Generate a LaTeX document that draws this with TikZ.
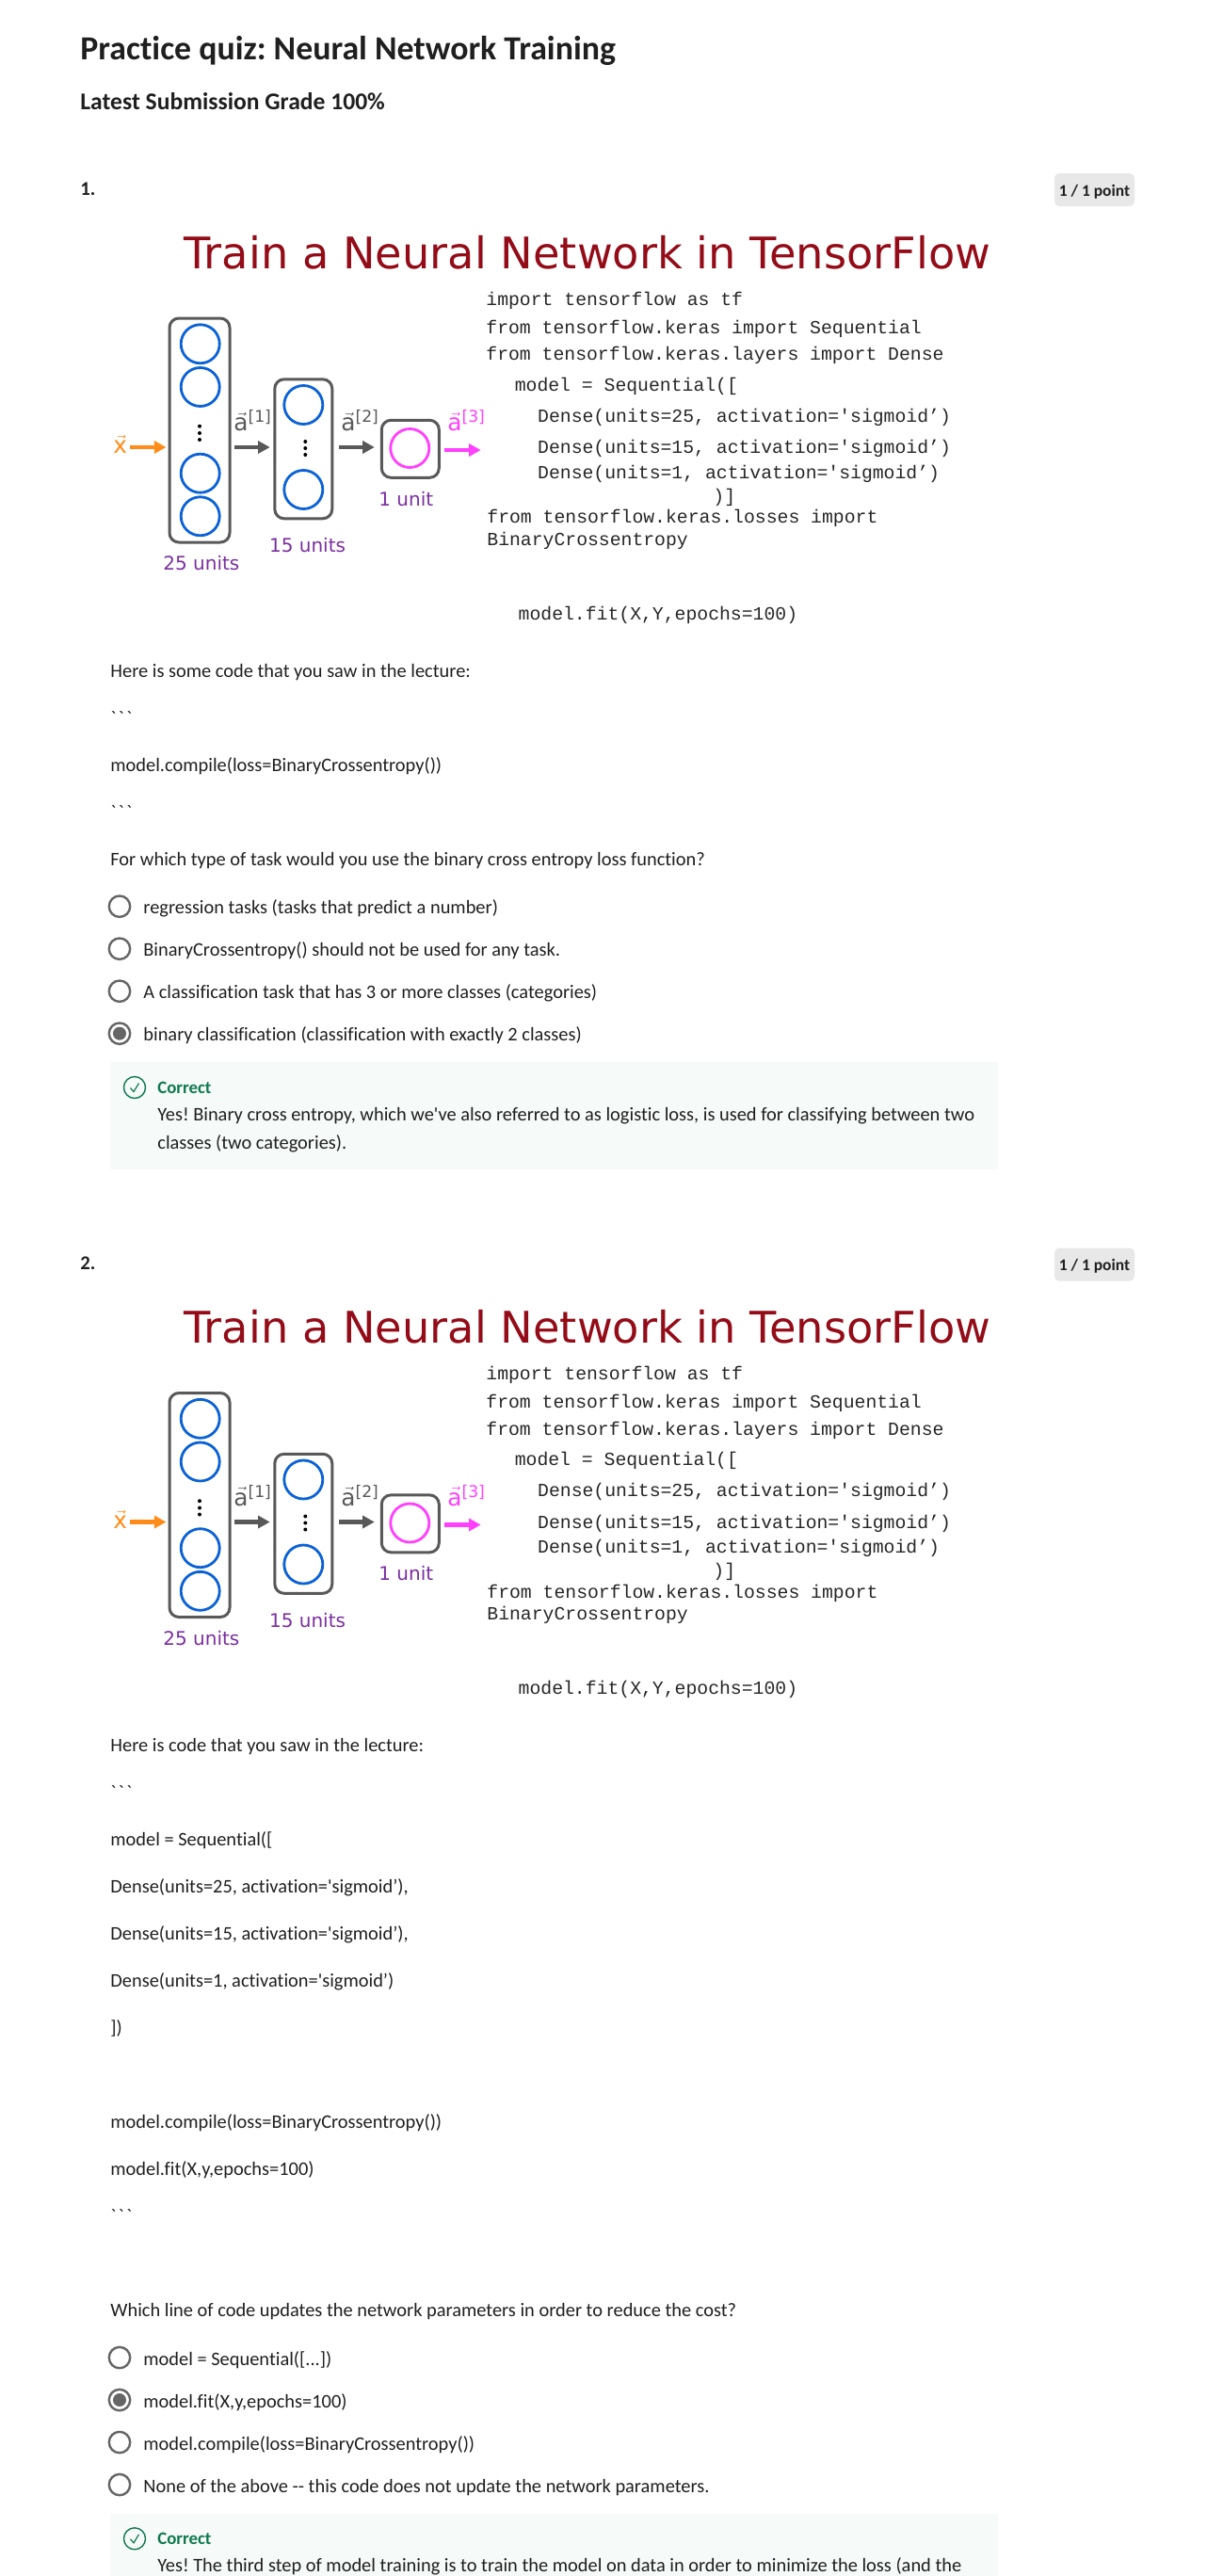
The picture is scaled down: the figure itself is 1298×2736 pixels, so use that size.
\documentclass[tikz,border=0pt]{standalone}
\usepackage{fontspec}
\usepackage{amsmath}
\usepackage{xcolor}
\usepackage{tikz}
\usetikzlibrary{arrows.meta}
\newfontfamily\bodyfont[Ligatures=NoCommon]{Carlito}
\newfontfamily\figfont{DejaVu Sans}
\newfontfamily\codefont{Liberation Mono}
\definecolor{ink}{HTML}{1F1F1F}
\definecolor{slide}{HTML}{930C18}
\definecolor{boxgray}{HTML}{595959}
\definecolor{neuronblue}{HTML}{0B62D6}
\definecolor{pink}{HTML}{FF40FF}
\definecolor{dlorange}{HTML}{FF8C1A}
\definecolor{unitpurple}{HTML}{7B2FA0}
\definecolor{okgreen}{HTML}{0F7A50}
\definecolor{okpale}{HTML}{F6FAF8}
\newcommand{\veclab}[2]{$\vec{\hbox{\figfont\fontsize{12.4}{12}\selectfont #1}}$\raisebox{4.5pt}{\figfont\fontsize{8.6}{9}\selectfont #2}}
\newcommand{\ticks}{`\hspace{1.2pt}`\hspace{1.2pt}`}
\tikzset{
    txt/.style={anchor=base west, inner sep=0pt, text=ink, execute at begin node=\frenchspacing, font=\bodyfont\fontsize{10.2}{12}\selectfont},
    heading/.style={txt, font=\bodyfont\fontsize{17.9}{20}\selectfont\bfseries},
    subhead/.style={txt, font=\bodyfont\fontsize{12.8}{15}\selectfont\bfseries},
    qnum/.style={txt, font=\bodyfont\fontsize{10.4}{12}\selectfont\bfseries},
    badge/.style={draw=none, fill=black!9, rounded corners=2.5pt, minimum width=42.5pt, minimum height=17.5pt, inner sep=0pt},
    radio/.style={circle, draw=black!60, line width=1.2pt, fill=white, minimum size=11.2pt, inner sep=0pt},
    layer/.style={draw=boxgray, line width=1.5pt, rounded corners=5pt, inner sep=0pt},
    neuron/.style={circle, draw=neuronblue, line width=1.4pt, minimum size=20.5pt, inner sep=0pt},
    code/.style={anchor=base west, inner sep=0pt, text=black!85, font=\codefont\fontsize{9.88}{12}\selectfont},
    units/.style={anchor=base west, inner sep=0pt, text=unitpurple, font=\figfont\fontsize{10}{12}\selectfont},
    veclbl/.style={anchor=base west, inner sep=0pt, text=boxgray},
    flow/.style={line width=2.2pt, -{Triangle[length=6.3pt,width=6.5pt]}},
    feedback/.style={anchor=north west, fill=okpale, draw=none, inner sep=0pt, minimum width=471.5pt}
}
\begin{document}
\begin{tikzpicture}[x=0.5pt,y=-0.5pt]
    \useasboundingbox (0,0) rectangle (1298,2736);

    % Page head
    \node[heading] (pagetitle) at (85,63) {Practice quiz: Neural Network Training};
    \node[subhead] (pagegrade) at (85,116) {Latest Submission Grade 100\%};

    % Number, badge and slide, same for both questions
    \foreach \dy/\num in {0/1,1141.5/2}{
    \begin{scope}[shift={(0,\dy)}]
        \node[qnum] (qnum\num) at (85,207) {\num.};
        \node[badge] (badge\num) at (1162.5,201.5) {};
        \node[txt, anchor=base, font=\bodyfont\fontsize{8.7}{10}\selectfont\bfseries] (points\num) at (1162.5,208.3) {1 / 1 point};
        \node[anchor=base west, inner sep=0pt, text=slide, font=\figfont\fontsize{23.15}{26}\selectfont] (slidetitle\num) at (195,285.2) {Train a Neural Network in TensorFlow};

        % Layers
        \node[layer, minimum width=32pt, minimum height=119pt] (layera\num) at (212,457) {};
        \node[layer, minimum width=30.5pt, minimum height=74pt] (layerb\num) at (322.3,476.8) {};
        \node[layer, minimum width=30.5pt, minimum height=30.5pt] (layerc\num) at (435.8,476.8) {};

        % Neurons
        \foreach \yy/\nm in {365.3/a,411/b,502.7/c,548.3/d}
            \node[neuron] (na\nm\num) at (212.7,\yy) {};
        \foreach \yy/\nm in {430/a,520/b}
            \node[neuron] (nb\nm\num) at (322.3,\yy) {};
        \node[neuron, draw=pink] (nc\num) at (435.3,476) {};
        \foreach \yy in {452.7,460,467}
            \fill (212,\yy) circle (2);
        \foreach \yy in {469,476,483}
            \fill (324.3,\yy) circle (2);

        % Arrows
        \coordinate (xin\num) at (138,475);
        \coordinate (aout\num) at (510.7,478);
        \draw[flow, dlorange, shorten >=1pt] (xin\num) -- (xin\num -| layera\num.west);
        \draw[flow, boxgray, shorten <=1.8pt, shorten >=1.8pt] (xin\num -| layera\num.east) -- (xin\num -| layerb\num.west);
        \draw[flow, boxgray, shorten <=3pt, shorten >=3pt] (xin\num -| layerb\num.east) -- (xin\num -| layerc\num.west);
        \draw[flow, pink, shorten <=2pt] (aout\num -| layerc\num.east) -- (aout\num);

        % Labels
        \node[veclbl, text=dlorange] (xlab\num) at (120,481.7) {$\vec{\hbox{\figfont\fontsize{12.4}{12}\selectfont x}}$};
        \node[veclbl] (alaba\num) at (248,457.7) {\veclab{a}{[1]}};
        \node[veclbl] (alabb\num) at (362,457.7) {\veclab{a}{[2]}};
        \node[veclbl, text=pink] (alabc\num) at (475,457.7) {\veclab{a}{[3]}};
        \node[units] (unitsa\num) at (173,605.7) {25 units};
        \node[units] (unitsb\num) at (285.7,586.7) {15 units};
        \node[units] (unitsc\num) at (402,537) {1 unit};

        % Code on the slide
        \node[code] (cda\num) at (516,324.3) {import tensorflow as tf};
        \node[code] (cdb\num) at (516,354) {from tensorflow.keras import Sequential};
        \node[code] (cdc\num) at (516,382.7) {from tensorflow.keras.layers import Dense};
        \node[code] (cdd\num) at (546.4,415) {model = Sequential([};
        \node[code] (cde\num) at (570.8,448.3) {Dense(units=25, activation='sigmoid’)};
        \node[code] (cdf\num) at (570.8,481.7) {Dense(units=15, activation='sigmoid’)};
        \node[code] (cdg\num) at (570.8,508.3) {Dense(units=1, activation='sigmoid’)};
        \node[code] (cdh\num) at (757,533) {)]};
        \node[code] (cdi\num) at (517,555.7) {from tensorflow.keras.losses import};
        \node[code] (cdj\num) at (517,579) {BinaryCrossentropy};
        \node[code] (cdk\num) at (550.3,658.3) {model.fit(X,Y,epochs=100)};
    \end{scope}
    }

    % Question 1
    \node[txt] (qatxta) at (117,719) {Here is some code that you saw in the lecture:};
    \node[txt] (qatxtb) at (117,769) {\ticks};
    \node[txt] (qatxtc) at (117,819) {model.compile(loss=BinaryCrossentropy())};
    \node[txt] (qatxtd) at (117,869) {\ticks};
    \node[txt] (qatxte) at (117,919) {For which type of task would you use the binary cross entropy loss function?};

    \node[radio] (qaopta) at (127,962.7) {};
    \node[radio] (qaoptb) at (127,1007.7) {};
    \node[radio] (qaoptc) at (127,1052.7) {};
    \node[radio] (qaoptd) at (127,1097.7) {};
    \fill[black!60] (qaoptd) circle (7);
    \node[txt] (qaansa) at (152,970) {regression tasks (tasks that predict a number)};
    \node[txt] (qaansb) at (152,1015) {BinaryCrossentropy() should not be used for any task.};
    \node[txt] (qaansc) at (152,1060) {A classification task that has 3 or more classes (categories)};
    \node[txt] (qaansd) at (152,1105) {binary classification (classification with exactly 2 classes)};

    \node[feedback, minimum height=57pt] (qafb) at (117,1128) {};
    \node[circle, draw=okgreen, line width=0.7pt, minimum size=11.5pt, inner sep=0pt] (qatick) at (143,1155) {};
    \draw[okgreen, line width=0.6pt] (qatick) ++(-4.5,0.5) -- ++(3.5,4) -- ++(5.5,-9);
    \node[txt, text=okgreen, font=\bodyfont\fontsize{9.4}{12}\selectfont\bfseries] (qaok) at (167,1161) {Correct};
    \node[txt] (qafba) at (167,1190) {Yes! Binary cross entropy, which we've also referred to as logistic loss, is used for classifying between two};
    \node[txt] (qafbb) at (167,1220) {classes (two categories).};

    % Question 2
    \node[txt] (qbtxta) at (117,1860) {Here is code that you saw in the lecture:};
    \node[txt] (qbtxtb) at (117,1910) {\ticks};
    \node[txt] (qbtxtc) at (117,1960) {model = Sequential([};
    \node[txt] (qbtxtd) at (117,2010) {Dense(units=25, activation='sigmoid’),};
    \node[txt] (qbtxte) at (117,2060) {Dense(units=15, activation='sigmoid’),};
    \node[txt] (qbtxtf) at (117,2110) {Dense(units=1, activation='sigmoid’)};
    \node[txt] (qbtxtg) at (117,2160) {])};
    \node[txt] (qbtxth) at (117,2260) {model.compile(loss=BinaryCrossentropy())};
    \node[txt] (qbtxti) at (117,2310) {model.fit(X,y,epochs=100)};
    \node[txt] (qbtxtj) at (117,2360) {\ticks};
    \node[txt] (qbtxtk) at (117,2460) {Which line of code updates the network parameters in order to reduce the cost?};

    \node[radio] (qbopta) at (127,2504) {};
    \node[radio] (qboptb) at (127,2549) {};
    \node[radio] (qboptc) at (127,2594) {};
    \node[radio] (qboptd) at (127,2639) {};
    \fill[black!60] (qboptb) circle (7);
    \node[txt] (qbansa) at (152,2512) {model = Sequential([...])};
    \node[txt] (qbansb) at (152,2557) {model.fit(X,y,epochs=100)};
    \node[txt] (qbansc) at (152,2602) {model.compile(loss=BinaryCrossentropy())};
    \node[txt] (qbansd) at (152,2647) {None of the above -- this code does not update the network parameters.};

    \node[feedback, minimum height=33pt] (qbfb) at (117,2670) {};
    \node[circle, draw=okgreen, line width=0.7pt, minimum size=11.5pt, inner sep=0pt] (qbtick) at (143,2696.3) {};
    \draw[okgreen, line width=0.6pt] (qbtick) ++(-4.5,0.5) -- ++(3.5,4) -- ++(5.5,-9);
    \node[txt, text=okgreen, font=\bodyfont\fontsize{9.4}{12}\selectfont\bfseries] (qbok) at (167,2702.7) {Correct};
    \node[txt] (qbfba) at (167,2731.7) {Yes! The third step of model training is to train the model on data in order to minimize the loss (and the};
\end{tikzpicture}
\end{document}
